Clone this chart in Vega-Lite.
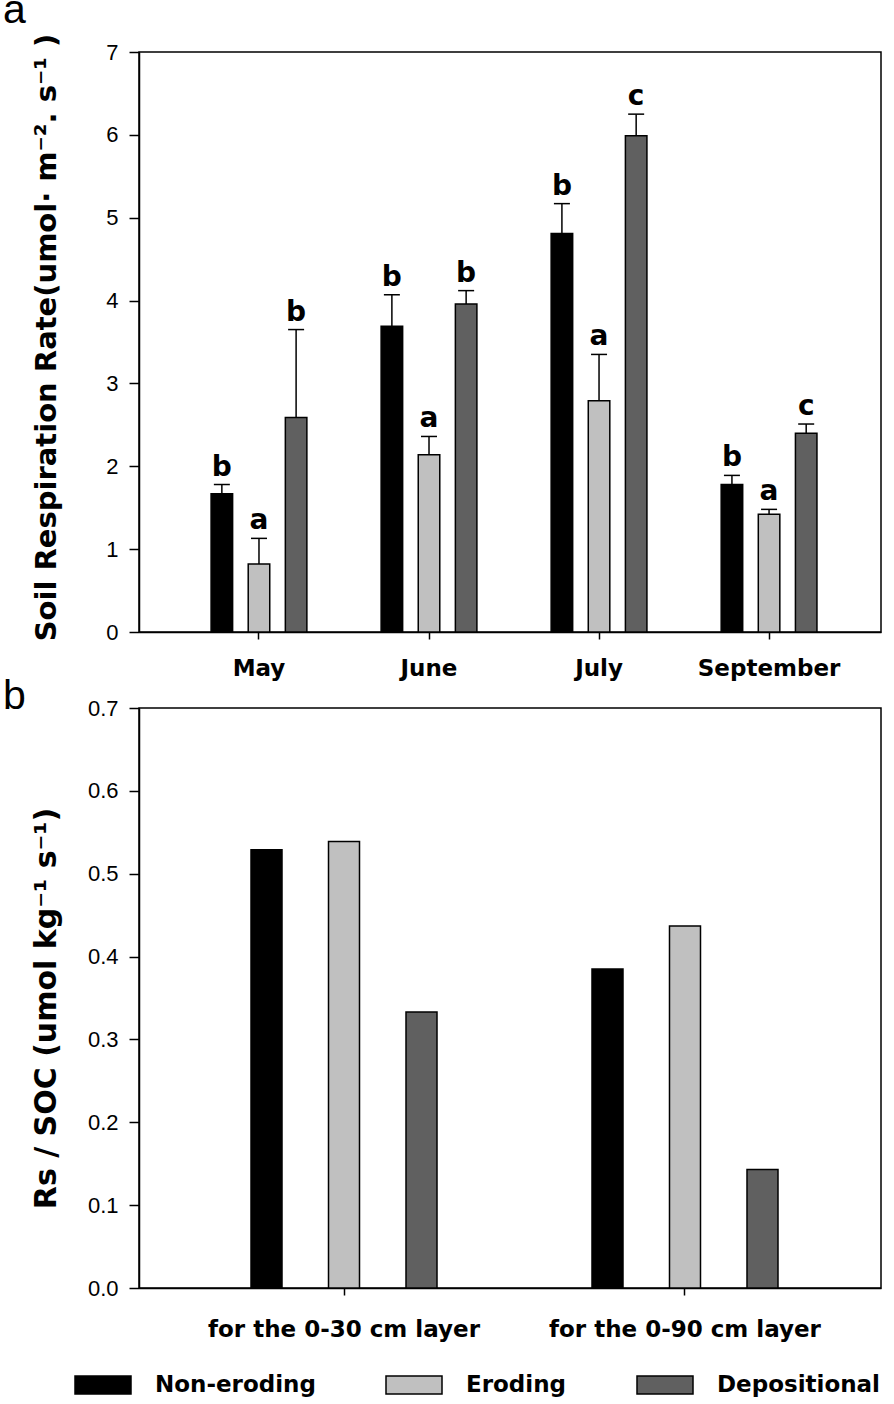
{
  "$schema": "https://vega.github.io/schema/vega-lite/v6.json",
  "background": "white",
  "padding": {"left": 2, "top": -11, "right": 0, "bottom": 0},
  "bounds": "flush",
  "spacing": 76,
  "resolve": {"scale": {"x": "independent", "xOffset": "independent", "y": "independent", "color": "shared"}},
  "config": {
    "view": {"stroke": "black", "strokeWidth": 1.5},
    "axis": {"domainColor": "black", "domainWidth": 1.5, "tickColor": "black", "tickWidth": 1.5, "labelColor": "black", "titleColor": "black", "grid": false},
    "legend": {
      "orient": "none", "legendX": -65, "legendY": 1304, "direction": "horizontal", "columns": 3,
      "symbolType": "M-1,-0.32H1V0.32H-1Z", "symbolSize": 3136, "symbolStrokeColor": "black", "symbolStrokeWidth": 1.5,
      "labelFont": "DejaVu Sans", "labelFontWeight": "bold", "labelFontSize": 23, "labelColor": "black", "labelOffset": 23,
      "columnPadding": 67, "labelLimit": 400, "padding": 0, "symbolOpacity": 1
    }
  },
  "datasets": {
    "monthly": [
      {"month": "May", "site": "Non-eroding", "value": 1.67, "upper": 1.78, "sig": "b"},
      {"month": "May", "site": "Eroding", "value": 0.82, "upper": 1.13, "sig": "a"},
      {"month": "May", "site": "Depositional", "value": 2.59, "upper": 3.65, "sig": "b"},
      {"month": "June", "site": "Non-eroding", "value": 3.69, "upper": 4.07, "sig": "b"},
      {"month": "June", "site": "Eroding", "value": 2.14, "upper": 2.36, "sig": "a"},
      {"month": "June", "site": "Depositional", "value": 3.96, "upper": 4.12, "sig": "b"},
      {"month": "July", "site": "Non-eroding", "value": 4.81, "upper": 5.17, "sig": "b"},
      {"month": "July", "site": "Eroding", "value": 2.79, "upper": 3.35, "sig": "a"},
      {"month": "July", "site": "Depositional", "value": 5.99, "upper": 6.25, "sig": "c"},
      {"month": "September", "site": "Non-eroding", "value": 1.78, "upper": 1.89, "sig": "b"},
      {"month": "September", "site": "Eroding", "value": 1.42, "upper": 1.48, "sig": "a"},
      {"month": "September", "site": "Depositional", "value": 2.40, "upper": 2.51, "sig": "c"}
    ],
    "ratio": [
      {"layer": "for the 0-30 cm layer", "site": "Non-eroding", "value": 0.529},
      {"layer": "for the 0-30 cm layer", "site": "Eroding", "value": 0.539},
      {"layer": "for the 0-30 cm layer", "site": "Depositional", "value": 0.333},
      {"layer": "for the 0-90 cm layer", "site": "Non-eroding", "value": 0.385},
      {"layer": "for the 0-90 cm layer", "site": "Eroding", "value": 0.437},
      {"layer": "for the 0-90 cm layer", "site": "Depositional", "value": 0.143}
    ]
  },
  "vconcat": [
    {
      "width": 742, "height": 580,
      "title": {"text": "a", "anchor": "start", "frame": "group", "dx": -136, "dy": 31, "font": "Liberation Sans", "fontSize": 41, "fontWeight": "normal", "color": "black", "offset": 0, "baseline": "alphabetic"},
      "data": {"name": "monthly"},
      "encoding": {
        "x": {"field": "month", "type": "nominal", "sort": ["May", "June", "July", "September"],
          "scale": {"paddingInner": 0, "paddingOuter": 0.182, "align": 0.565},
          "axis": {"title": null, "labelAngle": 0, "labelFont": "DejaVu Sans", "labelFontWeight": "bold", "labelFontSize": 23, "tickSize": 7, "labelPadding": 18}},
        "xOffset": {"field": "site", "type": "nominal", "sort": ["Non-eroding", "Eroding", "Depositional"],
          "scale": {"paddingInner": 0.42, "paddingOuter": 1.174}}
      },
      "layer": [
        {
          "mark": {"type": "bar", "stroke": "black", "strokeWidth": 1.5},
          "encoding": {
            "y": {"field": "value", "type": "quantitative", "scale": {"domain": [0, 7], "nice": false},
              "axis": {"values": [0, 1, 2, 3, 4, 5, 6, 7], "format": "d", "labelFont": "Liberation Sans", "labelFontSize": 22, "tickSize": 10, "labelPadding": 11,
                "title": "Soil Respiration Rate(umol· m⁻². s⁻¹ )", "titleFont": "DejaVu Sans", "titleFontWeight": "bold", "titleFontSize": 29,
                "titleX": -84, "titleY": 285, "titleBaseline": "alphabetic", "titleAngle": -90}},
            "color": {"field": "site", "type": "nominal", "sort": ["Non-eroding", "Eroding", "Depositional"],
              "scale": {"domain": ["Non-eroding", "Eroding", "Depositional"], "range": ["#000000", "#c0c0c0", "#606060"]},
              "legend": {"title": null}}
          }
        },
        {
          "mark": {"type": "rule", "color": "black", "strokeWidth": 1.5},
          "encoding": {"y": {"field": "value", "type": "quantitative"}, "y2": {"field": "upper"}}
        },
        {
          "mark": {"type": "tick", "color": "black", "thickness": 1.5, "size": 16, "opacity": 1},
          "encoding": {"y": {"field": "upper", "type": "quantitative"}}
        },
        {
          "mark": {"type": "text", "font": "DejaVu Sans", "fontWeight": "bold", "fontSize": 28, "baseline": "alphabetic", "dy": -9, "color": "black"},
          "encoding": {"y": {"field": "upper", "type": "quantitative"}, "text": {"field": "sig"}}
        }
      ]
    },
    {
      "width": 742, "height": 580,
      "title": {"text": "b", "anchor": "start", "frame": "group", "dx": -136, "dy": 53, "font": "Liberation Sans", "fontSize": 41, "fontWeight": "normal", "color": "black", "offset": 0, "baseline": "alphabetic"},
      "data": {"name": "ratio"},
      "encoding": {
        "x": {"field": "layer", "type": "nominal", "sort": ["for the 0-30 cm layer", "for the 0-90 cm layer"],
          "scale": {"paddingInner": 0, "paddingOuter": 0.088, "align": 0.575},
          "axis": {"title": null, "labelAngle": 0, "labelFont": "DejaVu Sans", "labelFontWeight": "bold", "labelFontSize": 23, "tickSize": 7, "labelPadding": 23, "labelLimit": 400}},
        "xOffset": {"field": "site", "type": "nominal", "sort": ["Non-eroding", "Eroding", "Depositional"],
          "scale": {"paddingInner": 0.6, "paddingOuter": 1.271}}
      },
      "layer": [
        {
          "mark": {"type": "bar", "stroke": "black", "strokeWidth": 1.5},
          "encoding": {
            "y": {"field": "value", "type": "quantitative", "scale": {"domain": [0, 0.7], "nice": false},
              "axis": {"values": [0, 0.1, 0.2, 0.3, 0.4, 0.5, 0.6, 0.7], "format": ".1f", "labelFont": "Liberation Sans", "labelFontSize": 22, "tickSize": 10, "labelPadding": 11,
                "title": "Rs / SOC (umol kg⁻¹ s⁻¹)", "titleFont": "DejaVu Sans", "titleFontWeight": "bold", "titleFontSize": 30,
                "titleX": -84, "titleY": 300, "titleBaseline": "alphabetic", "titleAngle": -90}},
            "color": {"field": "site", "type": "nominal", "sort": ["Non-eroding", "Eroding", "Depositional"],
              "scale": {"domain": ["Non-eroding", "Eroding", "Depositional"], "range": ["#000000", "#c0c0c0", "#606060"]},
              "legend": {"title": null}}
          }
        }
      ]
    }
  ]
}
